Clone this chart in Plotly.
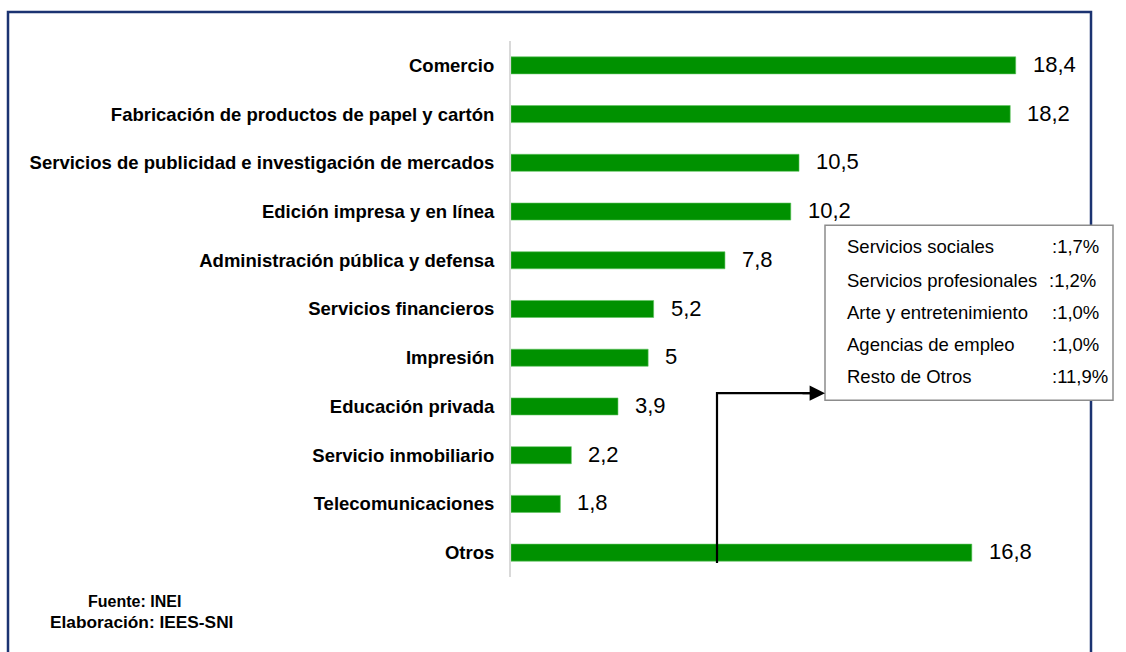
import plotly.graph_objects as go

# Sector shares (%) shown as horizontal bars, top to bottom
categories = [
    "Comercio",
    "Fabricación de productos de papel y cartón",
    "Servicios de publicidad e investigación de mercados",
    "Edición impresa y en línea",
    "Administración pública y defensa",
    "Servicios financieros",
    "Impresión",
    "Educación privada",
    "Servicio inmobiliario",
    "Telecomunicaciones",
    "Otros",
]
values = [18.4, 18.2, 10.5, 10.2, 7.8, 5.2, 5, 3.9, 2.2, 1.8, 16.8]

# Breakdown of "Otros"
otros_names = ["Servicios sociales", "Servicios profesionales", "Arte y entretenimiento",
               "Agencias de empleo", "Resto de Otros"]
otros_values = [":1,7%", ":1,2%", ":1,0%", ":1,0%", ":11,9%"]

W, H = 1126, 652
L, R, T, B = 511, 1090, 40.6, 577.0
PX_PER_UNIT = 27.43
x_max = (R - L) / PX_PER_UNIT


def px(x):
    return (x - L) / (R - L)


def py(y):
    return (B - y) / (B - T)


def fmt(v):
    s = f"{v:g}"
    return s.replace(".", ",")


GREEN = "#009100"
NAVY = "#1b3371"
FONT = "Liberation Sans, Arial"

fig = go.Figure()
fig.add_trace(go.Bar(
    x=values, y=categories, orientation="h",
    marker=dict(color=GREEN, line=dict(color="#5fc45f", width=0.6)),
    width=0.35, hoverinfo="skip",
))

annotations = []
for c, v in zip(categories, values):
    annotations.append(dict(
        x=v, y=c, xref="x", yref="y", text=fmt(v), showarrow=False,
        xanchor="left", yanchor="middle", xshift=15, yshift=1,
        font=dict(family=FONT, size=22, color="#000000"),
    ))

shapes = []
# outer frame (open at the bottom)
shapes.append(dict(
    type="path", xref="paper", yref="paper",
    path=f"M {px(8)} {py(720)} L {px(8)} {py(11.5)} L {px(1091)} {py(11.5)} L {px(1091)} {py(720)}",
    line=dict(color=NAVY, width=2.5), layer="above",
))
# connector from the "Otros" bar to the breakdown box
shapes.append(dict(
    type="path", xref="paper", yref="paper",
    path=f"M {px(717)} {py(563)} L {px(717)} {py(393)} L {px(810)} {py(393)}",
    line=dict(color="#000000", width=2.2), layer="above",
))
# breakdown box
shapes.append(dict(
    type="rect", xref="paper", yref="paper",
    x0=px(825), x1=px(1113), y0=py(400), y1=py(225),
    fillcolor="#ffffff", line=dict(color="#8c8c8c", width=1.5), layer="above",
))

annotations.append(dict(
    x=px(825), y=py(393), xref="paper", yref="paper", text="",
    showarrow=True, arrowhead=2, arrowsize=1.4, arrowwidth=2.2, arrowcolor="#000000",
    ax=-24, ay=0,
))

row_y = [246.5, 280.5, 312.5, 344.5, 376]
name_x = 845
val_x = [1050, 1047, 1050, 1050, 1050]
for name, val, yy, vx in zip(otros_names, otros_values, row_y, val_x):
    annotations.append(dict(
        x=px(name_x), y=py(yy), xref="paper", yref="paper", text=name,
        showarrow=False, xanchor="left", yanchor="middle",
        font=dict(family=FONT, size=18.5, color="#000000"),
    ))
    annotations.append(dict(
        x=px(vx), y=py(yy), xref="paper", yref="paper", text=val,
        showarrow=False, xanchor="left", yanchor="middle",
        font=dict(family=FONT, size=18.5, color="#000000"),
    ))

annotations.append(dict(
    x=px(134), y=py(602), xref="paper", yref="paper", text="<b>Fuente: INEI</b>",
    showarrow=False, xanchor="center", yanchor="middle",
    font=dict(family=FONT, size=16, color="#000000"),
))
annotations.append(dict(
    x=px(141), y=py(622), xref="paper", yref="paper", text="<b>Elaboración: IEES-SNI</b>",
    showarrow=False, xanchor="center", yanchor="middle",
    font=dict(family=FONT, size=17.3, color="#000000"),
))

fig.update_layout(
    width=W, height=H,
    margin=dict(l=L, r=W - R, t=T, b=H - B, pad=0),
    paper_bgcolor="#ffffff", plot_bgcolor="#ffffff",
    showlegend=False,
    xaxis=dict(range=[0, x_max], visible=False, fixedrange=True),
    yaxis=dict(
        categoryorder="array", categoryarray=categories, autorange="reversed",
        showline=True, linecolor="#d9d9d9", linewidth=2,
        showgrid=False, zeroline=False, ticks="", ticklabelstandoff=11,
        tickfont=dict(family=FONT, size=18.5, color="#000000", weight="bold"),
        fixedrange=True,
    ),
    shapes=shapes,
    annotations=annotations,
)

fig.write_html("out.html", config={"displayModeBar": False})
